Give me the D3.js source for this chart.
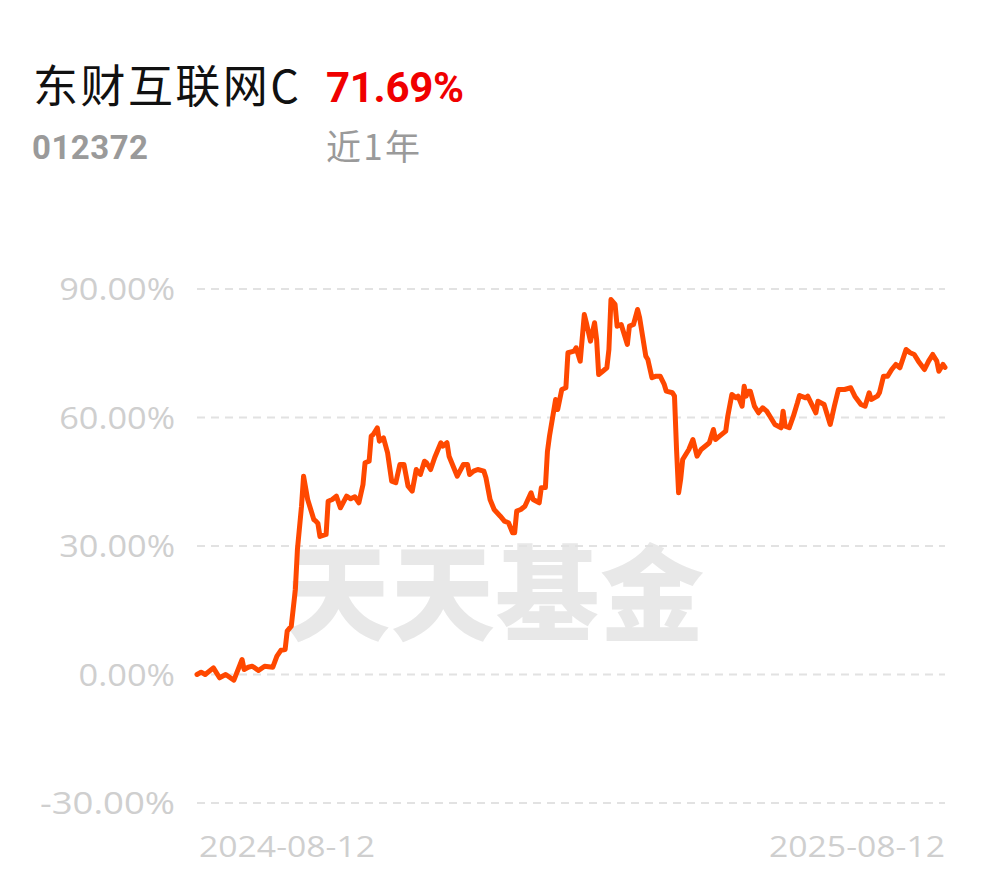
<!DOCTYPE html>
<html><head><meta charset="utf-8">
<script src="https://cdn.jsdelivr.net/npm/d3@7"></script>
<style>
html,body{margin:0;padding:0;background:#fff;}
svg{display:block;}
</style></head>
<body>
<svg id="chart" width="990" height="878"></svg>
<script>
const fundName = "东财互联网C";
const fundCode = "012372";
const periodLabel = "近1年";
const periodReturn = "71.69%";
const watermark = "天天基金";

const dates = [
"2024-08-12","2024-08-14","2024-08-16","2024-08-20","2024-08-23","2024-08-26","2024-08-30","2024-09-03","2024-09-04","2024-09-06",
"2024-09-08","2024-09-11","2024-09-14","2024-09-18","2024-09-20","2024-09-22","2024-09-24","2024-09-25","2024-09-27","2024-09-29",
"2024-09-30","2024-10-02","2024-10-03","2024-10-05","2024-10-08","2024-10-09","2024-10-10","2024-10-11","2024-10-14","2024-10-15",
"2024-10-17","2024-10-19","2024-10-21","2024-10-24","2024-10-26","2024-10-28","2024-10-30","2024-11-01","2024-11-02","2024-11-04",
"2024-11-05","2024-11-06","2024-11-08","2024-11-09","2024-11-11","2024-11-13","2024-11-15","2024-11-17","2024-11-19","2024-11-21",
"2024-11-23","2024-11-25","2024-11-27","2024-11-29","2024-12-01","2024-12-02","2024-12-04","2024-12-06","2024-12-09","2024-12-10",
"2024-12-12","2024-12-13","2024-12-17","2024-12-20","2024-12-22","2024-12-23","2024-12-25","2024-12-27","2024-12-30","2024-12-31",
"2025-01-02","2025-01-04","2025-01-07","2025-01-09","2025-01-11","2025-01-13","2025-01-14","2025-01-15","2025-01-17","2025-01-19",
"2025-01-22","2025-01-23","2025-01-26","2025-01-27","2025-01-29","2025-01-30","2025-01-31","2025-02-03","2025-02-04","2025-02-06",
"2025-02-08","2025-02-09","2025-02-12","2025-02-13","2025-02-15","2025-02-17","2025-02-18","2025-02-20","2025-02-22","2025-02-23",
"2025-02-24","2025-02-26","2025-02-28","2025-03-01","2025-03-02","2025-03-04","2025-03-05","2025-03-07","2025-03-10","2025-03-11",
"2025-03-13","2025-03-15","2025-03-16","2025-03-19","2025-03-20","2025-03-22","2025-03-24","2025-03-26","2025-03-28","2025-03-29",
"2025-04-01","2025-04-02","2025-04-03","2025-04-04","2025-04-05","2025-04-06","2025-04-09","2025-04-11","2025-04-13","2025-04-15",
"2025-04-18","2025-04-19","2025-04-21","2025-04-22","2025-04-24","2025-04-27","2025-04-28","2025-04-30","2025-05-02","2025-05-03",
"2025-05-05","2025-05-06","2025-05-07","2025-05-08","2025-05-09","2025-05-11","2025-05-13","2025-05-15","2025-05-17","2025-05-19",
"2025-05-21","2025-05-24","2025-05-25","2025-05-26","2025-05-28","2025-05-30","2025-06-01","2025-06-02","2025-06-05","2025-06-06",
"2025-06-10","2025-06-11","2025-06-14","2025-06-17","2025-06-19","2025-06-21","2025-06-24","2025-06-27","2025-06-29","2025-07-02",
"2025-07-04","2025-07-06","2025-07-07","2025-07-10","2025-07-11","2025-07-13","2025-07-15","2025-07-17","2025-07-19","2025-07-21",
"2025-07-24","2025-07-26","2025-07-28","2025-07-30","2025-08-02","2025-08-04","2025-08-06","2025-08-08","2025-08-09","2025-08-11",
"2025-08-12"];

const returns = [
0.00,0.54,0.00,1.56,-0.77,0.00,-1.33,3.50,1.17,1.70,
1.94,0.93,1.94,1.70,4.27,5.67,5.84,10.11,11.28,19.85,
29.18,39.29,46.30,40.86,36.19,35.79,35.25,32.22,32.69,40.46,
40.86,41.63,38.92,41.63,41.02,41.49,40.09,44.36,49.43,49.80,
55.64,56.03,57.60,54.47,55.26,51.76,45.13,44.76,49.03,49.03,
43.96,42.80,47.86,46.70,49.80,49.43,47.86,50.67,54.10,53.30,
54.10,50.97,46.30,49.03,49.03,46.70,47.47,47.86,47.47,45.93,
40.86,38.52,36.96,35.79,35.42,33.08,33.08,38.13,38.52,39.29,
42.42,40.86,40.09,43.59,43.66,52.07,55.64,64.21,61.87,66.54,
66.94,75.11,75.48,76.28,73.15,84.05,82.11,77.82,82.11,78.22,
70.04,70.81,71.61,75.88,87.55,86.39,81.32,81.72,77.05,81.32,
81.72,85.22,83.28,74.32,73.55,69.27,69.65,69.65,67.71,66.15,
65.77,64.98,52.53,42.42,45.53,50.20,52.53,54.87,50.97,52.53,
53.70,54.10,57.20,54.87,55.64,56.81,60.31,65.37,64.60,64.98,
62.64,67.31,64.98,66.15,66.15,62.64,61.10,62.27,61.48,59.93,
58.37,57.60,61.48,57.97,57.60,60.31,63.44,65.14,64.60,64.98,
61.10,63.81,63.04,58.37,62.64,66.54,66.54,66.94,64.98,63.04,
62.64,65.77,64.21,64.98,65.77,69.65,69.65,71.21,72.38,71.61,
75.88,75.11,74.71,73.15,71.21,73.15,74.71,73.15,70.81,72.38,
71.69];

const yTicks = [90, 60, 30, 0, -30];
const xTickLabels = ["2024-08-12", "2025-08-12"];

(function () {
const svg = d3.select("#chart");
const parse = d3.timeParse("%Y-%m-%d");
const data = dates.map((d, i) => ({ date: parse(d), v: returns[i] }));

const mLeft = 197, mRight = 945, mTop = 289, mBottom = 803;
const x = d3.scaleTime().domain([parse(xTickLabels[0]), parse(xTickLabels[1])]).range([mLeft, mRight]);
const y = d3.scaleLinear().domain([-30, 90]).range([mBottom, mTop]);

// Header
svg.append("text").attr("x", 33).attr("y", 103)
  .attr("font-family", "'Noto Sans CJK SC', sans-serif").attr("font-size", 45)
  .attr("fill", "#111").attr("textLength", 266).text(fundName);
svg.append("text").attr("x", 326).attr("y", 102)
  .attr("font-family", "Roboto, sans-serif").attr("font-weight", 700).attr("font-size", 42)
  .attr("fill", "#f00000").attr("textLength", 138).text(periodReturn);
svg.append("text").attr("x", 32).attr("y", 159)
  .attr("font-family", "Roboto, sans-serif").attr("font-weight", 700).attr("font-size", 33)
  .attr("fill", "#9a9a9a").attr("textLength", 116).text(fundCode);
svg.append("text").attr("x", 326).attr("y", 160)
  .attr("font-family", "'Noto Sans CJK SC', sans-serif").attr("font-size", 35)
  .attr("fill", "#9a9a9a").attr("textLength", 94).text(periodLabel);

// Watermark
svg.append("text").attr("x", 495).attr("y", 633)
  .attr("text-anchor", "middle")
  .attr("font-family", "'Noto Sans CJK SC', sans-serif").attr("font-weight", 900).attr("font-size", 104)
  .attr("fill", "#e8e8e8").attr("textLength", 418).text(watermark);

// Grid
svg.append("g").selectAll("line").data(yTicks).join("line")
  .attr("x1", mLeft).attr("x2", mRight)
  .attr("y1", d => y(d)).attr("y2", d => y(d))
  .attr("stroke", "#e2e2e2").attr("stroke-width", 2).attr("stroke-dasharray", "8,6");

// Y axis labels
const fmt = d => d.toFixed(2) + "%";
svg.append("g").selectAll("text").data(yTicks).join("text")
  .attr("x", 175).attr("y", d => y(d)).attr("dy", "0.36em")
  .attr("text-anchor", "end")
  .attr("font-family", "'Open Sans', sans-serif").attr("font-size", 31)
  .attr("fill", "#cfcfcf")
  .attr("textLength", d => fmt(d).length * 19.3)
  .attr("lengthAdjust", "spacingAndGlyphs")
  .text(fmt);

// X labels
svg.append("text").attr("x", mLeft + 2).attr("y", 857)
  .attr("font-family", "'Open Sans', sans-serif").attr("font-size", 30)
  .attr("fill", "#cfcfcf").attr("textLength", 176).attr("lengthAdjust", "spacingAndGlyphs")
  .text(xTickLabels[0]);
svg.append("text").attr("x", mRight).attr("y", 857).attr("text-anchor", "end")
  .attr("font-family", "'Open Sans', sans-serif").attr("font-size", 30)
  .attr("fill", "#cfcfcf").attr("textLength", 176).attr("lengthAdjust", "spacingAndGlyphs")
  .text(xTickLabels[1]);

// Line
const line = d3.line().x(d => x(d.date)).y(d => y(d.v)).curve(d3.curveLinear);
svg.append("path").datum(data).attr("d", line)
  .attr("fill", "none").attr("stroke", "#ff4800").attr("stroke-width", 5)
  .attr("stroke-linejoin", "round").attr("stroke-linecap", "round");
})();
</script>
</body></html>
